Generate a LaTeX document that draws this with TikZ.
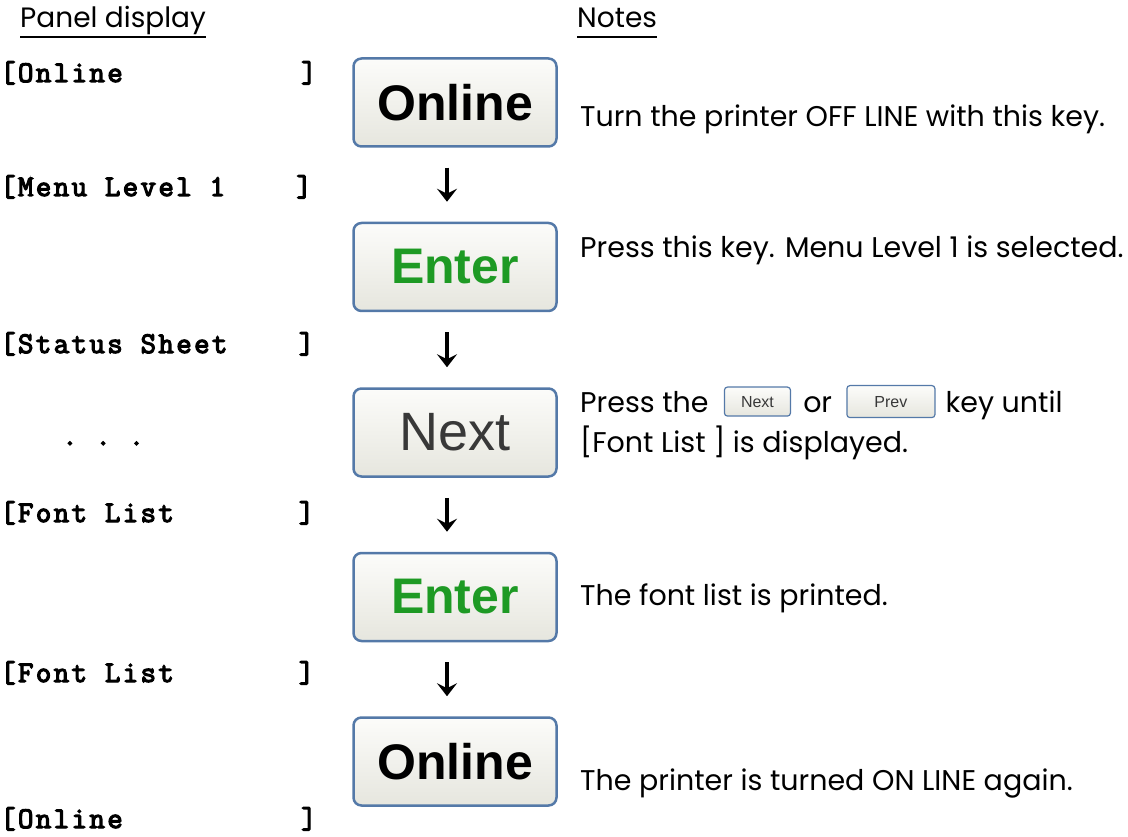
\documentclass[tikz,border=0pt]{standalone}
\usepackage{fontspec}
\setmainfont{Poppins}
\newfontfamily\keyfont{Liberation Sans}
\newfontfamily\panelfont{Latin Modern Mono}[FakeBold=4, LetterSpace=8]
\usepackage{xcolor}
\usepackage{tikz}
\usetikzlibrary{arrows.meta, positioning}

\definecolor{keyedge}{HTML}{5479A8}
\definecolor{keytop}{HTML}{FCFCFA}
\definecolor{keybot}{HTML}{E6E6DE}
\definecolor{entergreen}{HTML}{1E9A24}
\definecolor{nextgray}{HTML}{383838}

\begin{document}
\begin{tikzpicture}[
  x=1pt, y=-1pt,
  key/.style     = {draw=keyedge, line width=2.5pt, rounded corners=8pt,
                    top color=keytop, bottom color=keybot,
                    minimum width=203pt, minimum height=88pt,
                    font=\keyfont\fontsize{50}{56}\selectfont\bfseries},
  minikey/.style = {draw=keyedge, line width=1.2pt, rounded corners=3pt,
                    top color=keytop, bottom color=keybot, text=nextgray,
                    minimum height=29pt, inner sep=0pt,
                    font=\keyfont\fontsize{16}{18}\selectfont},
  panel/.style   = {anchor=base west, inner sep=0pt,
                    font=\panelfont\fontsize{30}{32}\selectfont},
  note/.style    = {anchor=base west, inner sep=0pt,
                    font=\fontsize{28.5}{34}\selectfont},
  head/.style    = {anchor=base west, inner sep=0pt,
                    font=\fontsize{28}{32}\selectfont},
  flow/.style    = {-{Stealth[length=13pt, width=20pt, inset=5pt]}, line width=3.5pt},
  uline/.style   = {line width=2pt}
]
  \useasboundingbox (0,0) rectangle (1128,837);

  % column heads
  \node[head] (hpanel) at (20,28)  {Panel display};
  \node[head] (hnotes) at (577,28) {Notes};
  \draw[uline] ([yshift=-9pt]hpanel.base west) -- ([yshift=-9pt]hpanel.base east);
  \draw[uline] ([yshift=-9pt]hnotes.base west) -- ([yshift=-9pt]hnotes.base east);

  % panel display
  \node[panel] (p1) at (0,82)  {[Online~~~~~~~~~~]};
  \node[panel] (p2) at (0,196) {[Menu~Level~1~~~~]};
  \node[panel] (p3) at (0,353) {[Status~Sheet~~~~]};
  \node[panel] (p4) at (62,445) {.~.~.};
  \node[panel] (p5) at (0,522) {[Font~List~~~~~~~]};
  \node[panel] (p6) at (0,682) {[Font~List~~~~~~~]};
  \node[panel] (p7) at (0,828) {[Online~~~~~~~~~~]};

  % keys
  \node[key]                   (on1) at (455,102.5) {Online};
  \node[key, text=entergreen]  (en1) at (455,267)   {Enter};
  \node[key, text=nextgray, font=\keyfont\fontsize{54}{60}\selectfont]
                               (nx)  at (455,432.5) {Next};
  \node[key, text=entergreen]  (en2) at (455,597)   {Enter};
  \node[key]                   (on2) at (455,761.5) {Online};

  \draw[flow] ([xshift=-8pt,yshift=-20pt]on1.south) -- ([xshift=-8pt,yshift=20pt]en1.north);
  \draw[flow] ([xshift=-8pt,yshift=-20pt]en1.south) -- ([xshift=-8pt,yshift=20pt]nx.north);
  \draw[flow] ([xshift=-8pt,yshift=-20pt]nx.south)  -- ([xshift=-8pt,yshift=20pt]en2.north);
  \draw[flow] ([xshift=-8pt,yshift=-20pt]en2.south) -- ([xshift=-8pt,yshift=20pt]on2.north);

  % notes
  \node[note] (n1) at (580,127) {Turn the printer OFF LINE with this key.};
  \node[note] (n2) at (580,258) {Press this key. Menu Level 1 is selected.};
  \node[note] (n3) at (580,412) {Press the};
  \node[minikey, minimum width=66pt, right=15pt of n3.east] (knext) {Next};
  \node[note] (n3or) at ([xshift=12pt]knext.east |- n3.base) {or};
  \node[minikey, minimum width=88pt, minimum height=32pt, right=14pt of n3or.east |- knext.center] (kprev) {Prev};
  \node[note] (n3end) at ([xshift=10pt]kprev.east |- n3.base) {key until};
  \node[note] (n4) at (580,452) {[Font List ] is displayed.};
  \node[note] (n5) at (580,605) {The font list is printed.};
  \node[note] (n6) at (580,790) {The printer is turned ON LINE again.};
\end{tikzpicture}
\end{document}
